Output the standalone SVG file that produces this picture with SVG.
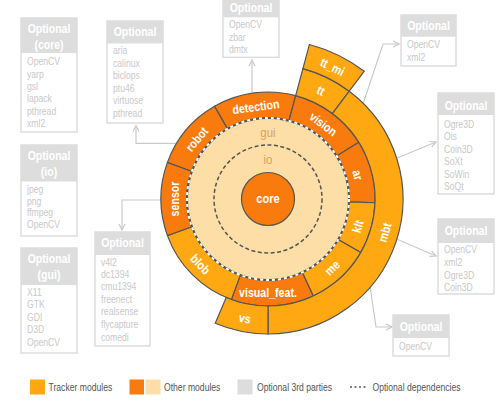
<svg xmlns="http://www.w3.org/2000/svg" width="500" height="403" viewBox="0 0 500 403">
<style>
text{font-family:"Liberation Sans",Arial,sans-serif}
.dk{fill:#F97B0E;stroke:#555;stroke-width:1.2}
.tr{fill:#FFA812;stroke:#555;stroke-width:1.2}
.lbl{fill:#fff;font-size:12.5px;text-anchor:middle;dominant-baseline:central;font-weight:bold}
.inner{fill:#D9A35E;font-size:13.5px;text-anchor:middle;dominant-baseline:central}
.box{fill:#fff;stroke:#DDDDDD;stroke-width:1.5}
.hdr{fill:#DDDDDD}
.ht{fill:#fff;font-size:13.5px;font-weight:bold;text-anchor:middle}
.it{fill:#C9C9C9;font-size:10.5px}
.con{fill:none;stroke:#CACACA;stroke-width:1.2;marker-end:url(#ar)}
.leg{fill:#555;font-size:10.5px}
</style>
<defs>
<marker id="ar" viewBox="0 0 8 8" refX="7" refY="4" markerWidth="8" markerHeight="8" markerUnits="userSpaceOnUse" orient="auto">
<path d="M1,1 L7,4 L1,7" fill="none" stroke="#CACACA" stroke-width="1.2"/>
</marker>
</defs>
<rect width="500" height="403" fill="#fff"/>

<g id="connectors">
<path class="con" d="M252,96 V60"/>
<path class="con" d="M177,143.3 H136 V125.5"/>
<path class="con" d="M161,200 H122 V230"/>
<path class="con" d="M352,137 L383,44 H399"/>
<path class="con" d="M373,168 L436,142"/>
<path class="con" d="M392,237 L436,256"/>
<path class="con" d="M363,238 L376,327 H392"/>
</g>

<g id="wheel">
<circle cx="268" cy="199" r="81" fill="#FDDEA6"/>
<g id="detection"><path class="dk" d="M214.5,106.34 A107,107 0 0 1 295.69,95.65 L288.96,120.76 A81,81 0 0 0 227.5,128.85 Z"/><text class="lbl" transform="translate(255.8,106.3) rotate(-7.5) scale(0.85,1)">detection</text></g>
<g id="vision"><path class="dk" d="M295.69,95.65 A107,107 0 0 1 358.74,142.30 L336.69,156.08 A81,81 0 0 0 288.96,120.76 Z"/><text class="lbl" transform="translate(323.6,123.8) rotate(36.5) scale(0.85,1)">vision</text></g>
<g id="ar_mod"><path class="dk" d="M358.74,142.30 A107,107 0 0 1 374.94,202.73 L348.95,201.83 A81,81 0 0 0 336.69,156.08 Z"/><text class="lbl" transform="translate(358.3,174.8) rotate(75) scale(0.85,1)">ar</text></g>
<g id="klt"><path class="tr" d="M374.94,202.73 A107,107 0 0 1 360.66,252.5 L338.15,239.5 A81,81 0 0 0 348.95,201.83 Z"/><text class="lbl" transform="translate(357.4,226.3) rotate(-73) scale(0.85,1)">klt</text></g>
<g id="me"><path class="tr" d="M360.66,252.5 A107,107 0 0 1 313.22,295.97 L302.23,272.41 A81,81 0 0 0 338.15,239.5 Z"/><text class="lbl" transform="translate(331.8,267.4) rotate(-43) scale(0.85,1)">me</text></g>
<g id="visual_feat"><path class="dk" d="M313.22,295.97 A107,107 0 0 1 231.41,299.55 L240.30,275.12 A81,81 0 0 0 302.23,272.41 Z"/><text class="lbl" transform="translate(268,292.5) scale(0.85,1)">visual_feat.</text></g>
<g id="blob"><path class="tr" d="M231.41,299.55 A107,107 0 0 1 167.45,235.59 L191.88,226.70 A81,81 0 0 0 240.30,275.12 Z"/><text class="lbl" transform="translate(200.7,264) rotate(46) scale(0.85,1)">blob</text></g>
<g id="sensor"><path class="dk" d="M167.45,235.59 A107,107 0 0 1 167.45,162.41 L191.88,171.30 A81,81 0 0 0 191.88,226.70 Z"/><text class="lbl" transform="translate(174.5,199) rotate(-90) scale(0.85,1)">sensor</text></g>
<g id="robot"><path class="dk" d="M167.45,162.41 A107,107 0 0 1 214.5,106.34 L227.5,128.85 A81,81 0 0 0 191.88,171.30 Z"/><text class="lbl" transform="translate(196.4,138.9) rotate(-50) scale(0.85,1)">robot</text></g>
<g id="tt"><path class="tr" d="M302.94,68.60 A135,135 0 0 1 349.24,91.19 L332.39,113.55 A107,107 0 0 0 295.69,95.65 Z"/><text class="lbl" transform="translate(321,90.2) rotate(26) scale(0.85,1)">tt</text></g>
<g id="tt_mi"><path class="tr" d="M309.41,44.46 A160,160 0 0 1 364.29,71.22 L349.24,91.19 A135,135 0 0 0 302.94,68.60 Z"/><text class="lbl" transform="translate(332.7,66.4) rotate(26) scale(0.85,1)">tt_mi</text></g>
<g id="mbt"><path class="tr" d="M349.24,91.19 A135,135 0 0 1 268,334 L268,306 A107,107 0 0 0 332.39,113.55 Z"/><text class="lbl" transform="translate(384.3,232.4) rotate(-74) scale(0.85,1)">mbt</text></g>
<g id="vs"><path class="tr" d="M268,334 A135,135 0 0 1 215.26,323.27 L226.20,297.49 A107,107 0 0 0 268,306 Z"/><text class="lbl" transform="translate(244.9,317.8) rotate(11) scale(0.85,1)">vs</text></g>
<g id="gui"><circle cx="268" cy="199" r="81" fill="none" stroke="#555" stroke-width="2"/><circle cx="268" cy="199" r="81" fill="none" stroke="#fff" stroke-width="2" stroke-dasharray="3 3"/><text class="inner" transform="translate(268,133) scale(0.85,1)">gui</text></g>
<g id="io"><circle cx="268" cy="199" r="54" fill="none" stroke="#555" stroke-width="1.5" stroke-dasharray="4 2.5"/><text class="inner" transform="translate(268,160) scale(0.85,1)">io</text></g>
<g id="core"><circle cx="268" cy="199" r="26.5" fill="#F97B0E" stroke="#555" stroke-width="1.2"/><text class="lbl" transform="translate(268,198.5) scale(0.85,1)" style="font-size:13px">core</text></g>
</g>

<g id="opt_core">
<rect class="box" x="21" y="18" width="56" height="114"/><rect class="hdr" x="21" y="18" width="56" height="35"/>
<g transform="matrix(.78 0 0 1 49 0)"><text class="ht" x="0" y="33">Optional</text><text class="ht" x="0" y="49">(core)</text></g>
<g transform="matrix(.82 0 0 1 27 0)"><text class="it" x="0" y="65.5">OpenCV</text><text class="it" x="0" y="78">yarp</text><text class="it" x="0" y="90.5">gsl</text><text class="it" x="0" y="102.5">lapack</text><text class="it" x="0" y="115">pthread</text><text class="it" x="0" y="127.5">xml2</text></g>
</g>
<g id="opt_robot">
<rect class="box" x="107" y="21" width="56" height="102"/><rect class="hdr" x="107" y="21" width="56" height="22.5"/>
<g transform="matrix(.78 0 0 1 135 0)"><text class="ht" x="0" y="36.5">Optional</text></g>
<g transform="matrix(.82 0 0 1 113 0)"><text class="it" x="0" y="54.5">aria</text><text class="it" x="0" y="67">calinux</text><text class="it" x="0" y="79.5">biclops</text><text class="it" x="0" y="92">ptu46</text><text class="it" x="0" y="104.5">virtuose</text><text class="it" x="0" y="117">pthread</text></g>
</g>
<g id="opt_io">
<rect class="box" x="21" y="145" width="56" height="91"/><rect class="hdr" x="21" y="145" width="56" height="36.5"/>
<g transform="matrix(.78 0 0 1 49 0)"><text class="ht" x="0" y="160">Optional</text><text class="ht" x="0" y="176">(io)</text></g>
<g transform="matrix(.82 0 0 1 27 0)"><text class="it" x="0" y="193">jpeg</text><text class="it" x="0" y="205">png</text><text class="it" x="0" y="216.5">ffmpeg</text><text class="it" x="0" y="228.5">OpenCV</text></g>
</g>
<g id="opt_gui">
<rect class="box" x="21" y="248" width="56" height="105"/><rect class="hdr" x="21" y="248" width="56" height="37"/>
<g transform="matrix(.78 0 0 1 49 0)"><text class="ht" x="0" y="263">Optional</text><text class="ht" x="0" y="279.5">(gui)</text></g>
<g transform="matrix(.82 0 0 1 27 0)"><text class="it" x="0" y="296">X11</text><text class="it" x="0" y="308.5">GTK</text><text class="it" x="0" y="321">GDI</text><text class="it" x="0" y="333.5">D3D</text><text class="it" x="0" y="346">OpenCV</text></g>
</g>
<g id="opt_sensor">
<rect class="box" x="95" y="232" width="55" height="114"/><rect class="hdr" x="95" y="232" width="55" height="23"/>
<g transform="matrix(.78 0 0 1 122.5 0)"><text class="ht" x="0" y="247.5">Optional</text></g>
<g transform="matrix(.82 0 0 1 101 0)"><text class="it" x="0" y="266">v4l2</text><text class="it" x="0" y="278">dc1394</text><text class="it" x="0" y="290.5">cmu1394</text><text class="it" x="0" y="303">freenect</text><text class="it" x="0" y="315.5">realsense</text><text class="it" x="0" y="328.5">flycapture</text><text class="it" x="0" y="341">comedi</text></g>
</g>
<g id="opt_detection">
<rect class="box" x="223" y="-3" width="56" height="60.3"/><rect class="hdr" x="223" y="-3" width="56" height="20.3"/>
<g transform="matrix(.78 0 0 1 251 0)"><text class="ht" x="0" y="12.5">Optional</text></g>
<g transform="matrix(.82 0 0 1 229 0)"><text class="it" x="0" y="28.5">OpenCV</text><text class="it" x="0" y="41">zbar</text><text class="it" x="0" y="53.5">dmtx</text></g>
</g>
<g id="opt_tt">
<rect class="box" x="401" y="15" width="55" height="51"/><rect class="hdr" x="401" y="15" width="55" height="21.7"/>
<g transform="matrix(.78 0 0 1 428.5 0)"><text class="ht" x="0" y="30.5">Optional</text></g>
<g transform="matrix(.82 0 0 1 407 0)"><text class="it" x="0" y="48">OpenCV</text><text class="it" x="0" y="61">xml2</text></g>
</g>
<g id="opt_mbt_a">
<rect class="box" x="438" y="93" width="56" height="101"/><rect class="hdr" x="438" y="93" width="56" height="22"/>
<g transform="matrix(.78 0 0 1 466 0)"><text class="ht" x="0" y="110.5">Optional</text></g>
<g transform="matrix(.82 0 0 1 444 0)"><text class="it" x="0" y="128.5">Ogre3D</text><text class="it" x="0" y="140.5">Ois</text><text class="it" x="0" y="153">Coin3D</text><text class="it" x="0" y="165.5">SoXt</text><text class="it" x="0" y="178">SoWin</text><text class="it" x="0" y="190.5">SoQt</text></g>
</g>
<g id="opt_mbt_b">
<rect class="box" x="438" y="219" width="56" height="75"/><rect class="hdr" x="438" y="219" width="56" height="24"/>
<g transform="matrix(.78 0 0 1 466 0)"><text class="ht" x="0" y="235.5">Optional</text></g>
<g transform="matrix(.82 0 0 1 444 0)"><text class="it" x="0" y="253">OpenCV</text><text class="it" x="0" y="266.5">xml2</text><text class="it" x="0" y="279">Ogre3D</text><text class="it" x="0" y="291">Coin3D</text></g>
</g>
<g id="opt_klt">
<rect class="box" x="393" y="315" width="56" height="41"/><rect class="hdr" x="393" y="315" width="56" height="23"/>
<g transform="matrix(.78 0 0 1 421 0)"><text class="ht" x="0" y="331">Optional</text></g>
<g transform="matrix(.82 0 0 1 399 0)"><text class="it" x="0" y="350.5">OpenCV</text></g>
</g>

<g id="legend">
<rect x="30" y="379.5" width="15" height="15" fill="#FFA812"/>
<text class="leg" transform="matrix(.82 0 0 1 48.5 391)">Tracker modules</text>
<rect x="129.5" y="379.5" width="14.5" height="15" fill="#F97B0E"/>
<rect x="145.5" y="379.5" width="15" height="15" fill="#FDDEA6"/>
<text class="leg" transform="matrix(.82 0 0 1 164 391)">Other modules</text>
<rect x="237.5" y="379.5" width="15" height="15" fill="#DDDDDD"/>
<text class="leg" transform="matrix(.82 0 0 1 257 391)">Optional 3rd parties</text>
<line x1="350" y1="387" x2="367" y2="387" stroke="#555" stroke-width="1.5" stroke-dasharray="2 2.5"/>
<text class="leg" transform="matrix(.82 0 0 1 372.5 391)">Optional dependencies</text>
</g>
</svg>
